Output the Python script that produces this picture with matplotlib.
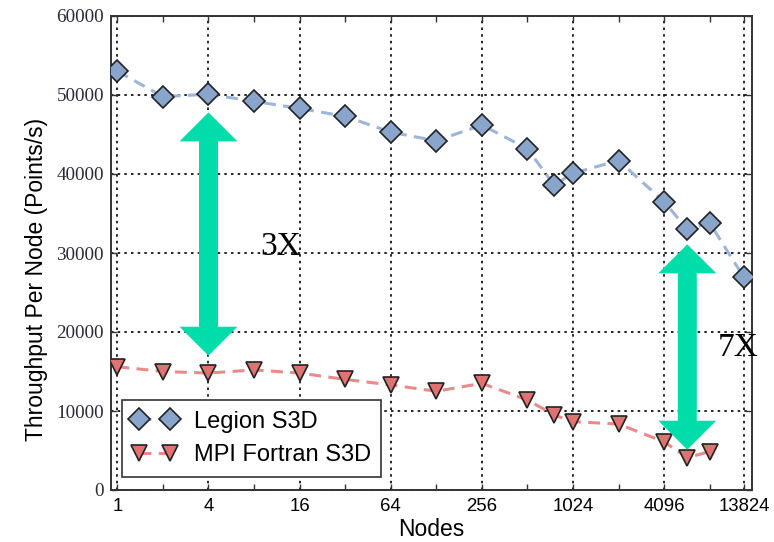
import numpy as np
import matplotlib
matplotlib.use('Agg')
import matplotlib.pyplot as plt
import matplotlib.patches as mpatches
import matplotlib.transforms as mtransforms
from matplotlib.ticker import FixedLocator, FixedFormatter, NullFormatter

# Throughput per node for the weak-scaling runs
nodes = [1, 2, 4, 8, 16, 32, 64, 128, 256, 512, 768, 1024, 2048, 4096, 5832, 8192, 13824]
legion = [53000, 49800, 50100, 49200, 48300, 47300, 45300, 44200, 46200, 43200,
          38600, 40100, 41700, 36500, 33000, 33800, 26900]
mpi_nodes = nodes[:-1]
mpi = [15600, 15000, 14800, 15200, 14800, 14000, 13300, 12500, 13500, 11400,
       9500, 8650, 8350, 6100, 4100, 4850]

major_ticks = [1, 4, 16, 64, 256, 1024, 4096, 13824]
minor_ticks = [2, 8, 32, 128, 512, 2048, 8192]
y_ticks = [0, 10000, 20000, 30000, 40000, 50000, 60000]

# speedup arrows: (nodes, top, bottom, label, label x, label y)
speedups = [(4, 47800, 17000, '3X', 12, 30800),
            (5832, 31100, 5100, '7X', 12700, 18000)]

legion_face = '#8aa5cc'
legion_line = '#9db5da'
mpi_face = '#e07272'
mpi_line = '#ea8a8a'
arrow_color = '#00dcaa'

fig = plt.figure(figsize=(7.74, 5.42), dpi=100)
ax = fig.add_axes([111 / 774, 52 / 542, 641 / 774, 474 / 542])

ax.plot(nodes, legion, color=legion_line, lw=2.2, dashes=(3.9, 2.4), zorder=2)
ax.plot(nodes, legion, ls='none', marker='D', ms=11, mfc=legion_face,
        mec='#222222', mew=1.2, zorder=4)
ax.plot(mpi_nodes, mpi, color=mpi_line, lw=2.2, dashes=(3.9, 2.4), zorder=2)
ax.plot(mpi_nodes, mpi, ls='none', marker='v', ms=11, mfc=mpi_face,
        mec='#222222', mew=1.2, zorder=4)

# legend proxies (marker + dashed line)
h1, = ax.plot([], [], color=legion_line, lw=2.2, dashes=(3.9, 2.4), marker='D',
              ms=11, mfc=legion_face, mec='#222222', mew=1.2)
h2, = ax.plot([], [], color=mpi_line, lw=2.2, dashes=(3.9, 2.4), marker='v',
              ms=11, mfc=mpi_face, mec='#222222', mew=1.2)

ax.set_xscale('log', base=2)
ax.set_xlim(2 ** -0.14, 2 ** 13.93)
ax.set_ylim(0, 60000)

ax.xaxis.set_major_locator(FixedLocator(major_ticks))
ax.xaxis.set_major_formatter(FixedFormatter([str(t) for t in major_ticks]))
ax.xaxis.set_minor_locator(FixedLocator(minor_ticks))
ax.xaxis.set_minor_formatter(NullFormatter())
ax.set_yticks(y_ticks)
ax.set_yticklabels([str(t) for t in y_ticks])

ax.tick_params(which='both', direction='in', top=True, right=True, length=4,
               width=1.0, color='#333333')
ax.tick_params(axis='x', labelsize=13.4, pad=6)
ax.tick_params(axis='y', labelsize=13.8, pad=5)
for lab in ax.get_xticklabels():
    lab.set_fontfamily('Liberation Sans')
for lab in ax.get_yticklabels():
    lab.set_fontfamily('Liberation Serif')
    lab.set_color('#2a2a3a')

ax.grid(True, which='major', color='black', ls=(0, (1.5, 2.5)), lw=1.2)
for s in ax.spines.values():
    s.set_linewidth(1.4)
    s.set_color('#333333')

ax.set_xlabel('Nodes', fontsize=16.5, family='Liberation Sans', labelpad=2)
ax.set_ylabel('Throughput Per Node (Points/s)', fontsize=16.5,
              family='Liberation Sans')
ax.yaxis.set_label_coords(-0.098, 0.445)

leg = ax.legend([h1, h2], ['Legion S3D', 'MPI Fortran S3D'], loc='lower left',
                bbox_to_anchor=(0.0167, 0.0274), borderaxespad=0, numpoints=2,
                fancybox=False, framealpha=1, edgecolor='#333333',
                handlelength=1.9, handletextpad=0.7, borderpad=0.45,
                labelspacing=0.5,
                prop={'family': 'Liberation Sans', 'size': 17})
leg.get_frame().set_linewidth(1.2)
leg.set_zorder(6)

# double-headed arrows, sized in pixels around the data endpoints
shaft_w, head_w, head_l = 19, 58, 29
for x, top, bottom, label, lx, ly in speedups:
    cx, yt = ax.transData.transform((x, top))
    _, yb = ax.transData.transform((x, bottom))
    verts = [(cx, yt), (cx + head_w / 2, yt - head_l), (cx + shaft_w / 2, yt - head_l),
             (cx + shaft_w / 2, yb + head_l), (cx + head_w / 2, yb + head_l), (cx, yb),
             (cx - head_w / 2, yb + head_l), (cx - shaft_w / 2, yb + head_l),
             (cx - shaft_w / 2, yt - head_l), (cx - head_w / 2, yt - head_l)]
    arrow = mpatches.Polygon(verts, closed=True, facecolor=arrow_color,
                             edgecolor='none', transform=mtransforms.IdentityTransform(),
                             zorder=5)
    ax.add_patch(arrow)
    ax.text(lx, ly, label, fontsize=24, family='Liberation Serif', ha='center',
            va='center', color='black', clip_on=False, zorder=7)

fig.savefig('out.png', dpi=100)
